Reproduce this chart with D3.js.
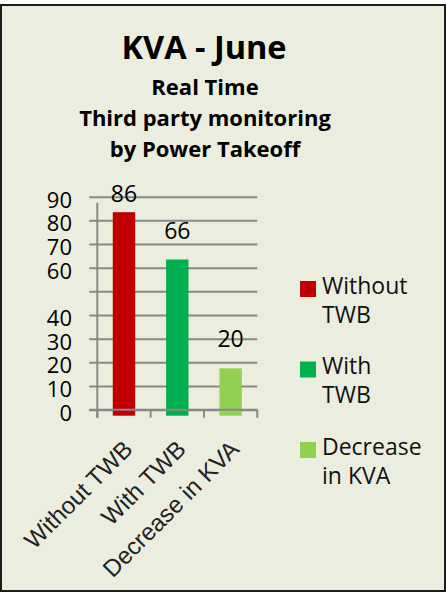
<!DOCTYPE html>
<html>
<head>
<meta charset="utf-8">
<script src="https://cdn.jsdelivr.net/npm/d3@7"></script>
<style>
  body { margin: 0; background: #fff; }
  svg { display: block; }
</style>
</head>
<body>
<div id="chart"></div>
<script>
// data
var categories = ["Without TWB", "With TWB", "Decrease in KVA"];
var values = [86, 66, 20];
var colors = ["#C00000", "#00B050", "#92D050"];
var yTickValues = [0, 10, 20, 30, 40, 60, 70, 80, 90];
var titleLines = ["Real Time", "Third party monitoring", "by Power Takeoff"];

var W = 446, H = 592;
var font = "'Open Sans', sans-serif";

var svg = d3.select("#chart")
    .append("svg")
    .attr("width", W)
    .attr("height", H);

// background + frame
svg.append("rect")
    .attr("x", 1).attr("y", 5)
    .attr("width", W - 2).attr("height", H - 6)
    .attr("fill", "#EBEEDE")
    .attr("stroke", "#1b1b1b")
    .attr("stroke-width", 2);

// titles
svg.append("text")
    .attr("x", 204).attr("y", 59)
    .attr("text-anchor", "middle")
    .attr("font-family", font)
    .attr("font-weight", "bold")
    .attr("font-size", 32.5)
    .attr("fill", "#000")
    .text("KVA - June");

svg.selectAll(".subtitle")
    .data(titleLines)
    .enter().append("text")
    .attr("class", "subtitle")
    .attr("x", 205)
    .attr("y", function(d, i) { return 95 + i * 31; })
    .attr("text-anchor", "middle")
    .attr("font-family", font)
    .attr("font-weight", "bold")
    .attr("font-size", 22)
    .attr("fill", "#000")
    .text(function(d) { return d; });

// plot area
var plot = { left: 97.3, right: 257.3, top: 196.7, bottom: 409.7 };

var x = d3.scaleBand()
    .domain(categories)
    .range([plot.left, plot.right])
    .paddingInner(0.58)
    .paddingOuter(0.29);

var y = d3.scaleLinear()
    .domain([0, 90])
    .range([plot.bottom, plot.top]);

var g = svg.append("g");

// gridlines every 10
var grid = g.append("g")
    .attr("transform", "translate(" + plot.left + ",0)")
    .call(d3.axisLeft(y).tickValues(d3.range(0, 100, 10))
        .tickSize(-(plot.right - plot.left))
        .tickFormat(""));
grid.select(".domain").remove();
grid.selectAll(".tick line")
    .attr("stroke", "#888")
    .attr("stroke-width", 2)
    .attr("x1", -8);

// vertical axis line
g.append("line")
    .attr("x1", plot.left).attr("x2", plot.left)
    .attr("y1", plot.top + 6).attr("y2", plot.bottom + 8)
    .attr("stroke", "#888")
    .attr("stroke-width", 2);

// tick marks under the category axis
var edges = [plot.left].concat(categories.map(function(c) { return x(c) + x.bandwidth() + x.step() * x.paddingInner() / 2; }));
edges[edges.length - 1] = plot.right;
g.selectAll(".xtick")
    .data(edges)
    .enter().append("line")
    .attr("class", "xtick")
    .attr("x1", function(d) { return d; })
    .attr("x2", function(d) { return d; })
    .attr("y1", plot.bottom)
    .attr("y2", plot.bottom + 8)
    .attr("stroke", "#888")
    .attr("stroke-width", 2);

// bars (drawn a bit low, as in the original)
g.selectAll(".bar")
    .data(values)
    .enter().append("rect")
    .attr("class", "bar")
    .attr("x", function(d, i) { return x(categories[i]); })
    .attr("width", x.bandwidth())
    .attr("y", function(d) { return y(d) + 6; })
    .attr("height", function(d) { return y(0) - y(d); })
    .attr("fill", function(d, i) { return colors[i]; });

// category axis line over the bars
g.append("line")
    .attr("x1", plot.left - 8).attr("x2", plot.right)
    .attr("y1", plot.bottom).attr("y2", plot.bottom)
    .attr("stroke", "#888")
    .attr("stroke-width", 2);

// value labels
g.selectAll(".vlabel")
    .data(values)
    .enter().append("text")
    .attr("class", "vlabel")
    .attr("x", function(d, i) { return x(categories[i]) + x.bandwidth() / 2; })
    .attr("y", function(d) { return Math.max(y(d) - 15, plot.top + 5); })
    .attr("text-anchor", "middle")
    .attr("font-family", font)
    .attr("font-size", 23)
    .attr("fill", "#000")
    .text(function(d) { return d; });

// y tick labels
g.selectAll(".ylabel")
    .data(yTickValues)
    .enter().append("text")
    .attr("class", "ylabel")
    .attr("x", 72)
    .attr("y", function(d) { return y(d) + 3; })
    .attr("dy", "0.36em")
    .attr("text-anchor", "end")
    .attr("font-family", font)
    .attr("font-size", 22)
    .attr("fill", "#000")
    .text(function(d) { return d; });

// rotated category labels
g.selectAll(".xlabel")
    .data(categories)
    .enter().append("text")
    .attr("class", "xlabel")
    .attr("transform", function(d) {
        return "translate(" + (x(d) + x.bandwidth() / 2 + 10) + "," + (plot.bottom + 41) + ") rotate(-45)";
    })
    .attr("text-anchor", "end")
    .attr("font-family", "'Liberation Sans', Arial, sans-serif")
    .attr("font-size", 24)
    .attr("fill", "#222")
    .text(function(d) { return d; });

// legend
var legend = svg.selectAll(".legend")
    .data(categories)
    .enter().append("g")
    .attr("class", "legend")
    .attr("transform", function(d, i) { return "translate(300," + (281 + i * 80.5) + ")"; });

legend.append("rect")
    .attr("width", 16).attr("height", 16)
    .attr("fill", function(d, i) { return colors[i]; });

legend.each(function(d) {
    var k = d.indexOf(" ");
    var parts = [d.slice(0, k), d.slice(k + 1)];
    d3.select(this).selectAll("text")
        .data(parts)
        .enter().append("text")
        .attr("x", 22)
        .attr("y", function(p, j) { return 12.5 + j * 29; })
        .attr("font-family", font)
        .attr("font-size", 23)
        .attr("fill", "#111")
        .text(function(p) { return p; });
});
</script>
</body>
</html>
